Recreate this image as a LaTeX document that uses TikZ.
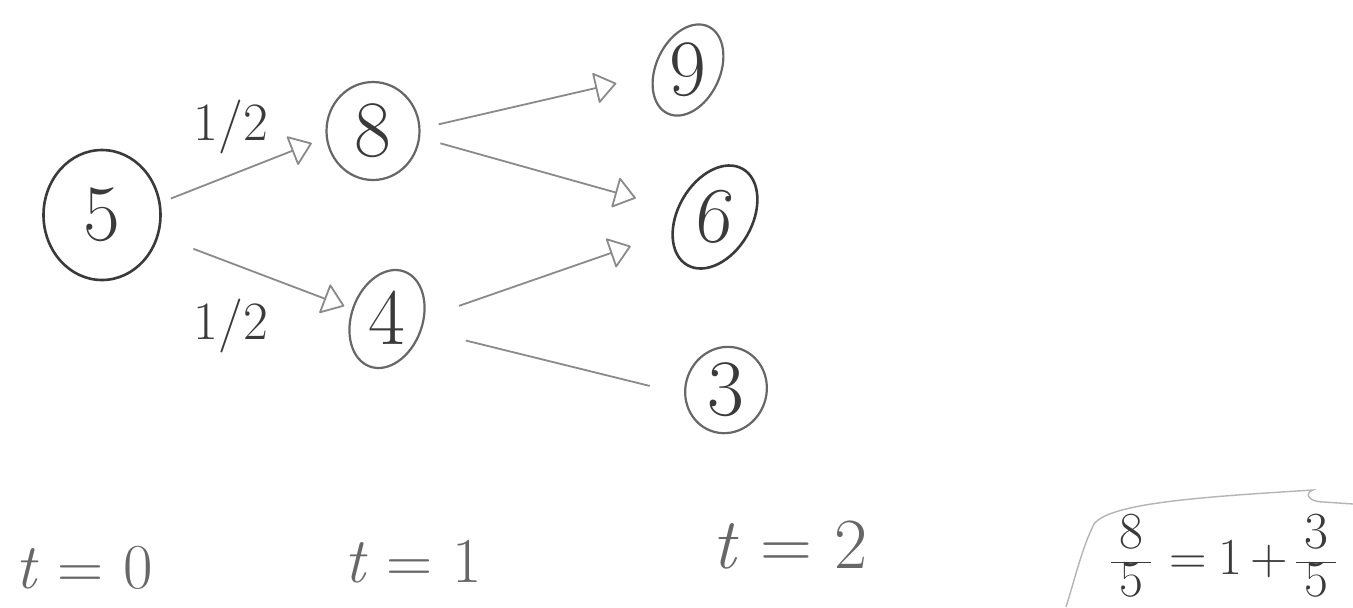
\documentclass[tikz,border=0pt]{standalone}
\usetikzlibrary{arrows.meta,shapes.geometric}
\definecolor{pencil}{HTML}{3A3A3A}
\definecolor{pencilmid}{HTML}{676767}
\definecolor{pencillight}{HTML}{8A8A8A}
\definecolor{pencilfaint}{HTML}{B4B4B4}
\newcommand\tiltdigit[2]{\raisebox{-0.322em}[0pt][0pt]{\makebox[0pt]{\rotatebox[origin=c]{#1}{#2}}}}
\newcommand\handfrac[2]{{\renewcommand\arraystretch{0.84}\begin{tabular}[c]{@{\hspace{4pt}}c@{\hspace{4pt}}}#1\\\hline #2\end{tabular}}}
\begin{document}
\begin{tikzpicture}[x=0.5pt,y=-0.5pt,
  ring/.style={ellipse, draw=pencilmid, line width=1.1pt, inner sep=0pt, text=pencil, font=\fontsize{40}{48}\selectfont},
  darkring/.style={ring, draw=pencil, line width=1.3pt},
  edgeline/.style={draw=pencillight, line width=0.9pt},
  tipped/.style={edgeline, -{Triangle[open, round, length=11pt, width=16pt]}},
  prob/.style={text=pencil, font=\fontsize{27}{27}\selectfont},
  timelbl/.style={text=pencilmid, font=\fontsize{32}{38}\selectfont},
]
\fill[white] (0,0) rectangle (1353,607);
\useasboundingbox (0,0) rectangle (1353,607);

% nodes
\node[darkring, minimum width=58.5pt, minimum height=65pt] (n5) at (102,215) {5};
\node[ring, minimum width=46.5pt, minimum height=49pt] (n8) at (373,131) {8};
\node[ring, minimum width=35.5pt, minimum height=50.5pt, rotate=-20] (n4) at (387,319) {\tiltdigit{20}{4}};
\node[ring, minimum width=32pt, minimum height=48pt, rotate=-25] (n9) at (688,70) {\tiltdigit{25}{9}};
\node[darkring, minimum width=37pt, minimum height=55.5pt, rotate=-30] (n6) at (715,217) {\tiltdigit{22}{6}};
\node[ring, minimum width=40.5pt, minimum height=43.5pt, rotate=-20] (n3) at (726,390) {\tiltdigit{20}{3}};

% connectors
\draw[tipped, shorten <=5.5pt, shorten >=7.5pt] (n5.12) -- (n8.188);
\draw[tipped, shorten <=18.5pt, shorten >=4pt] (n5.-20) -- (n4.184);
\draw[tipped, shorten <=9.3pt, shorten >=18.4pt] (n8.3) -- (n9.213);
\draw[tipped, shorten <=10.5pt, shorten >=21pt] (n8.-8) -- (n6.199);
\draw[tipped, shorten <=18pt, shorten >=21.5pt] (n4.22) -- (n6.229);
\draw[edgeline, shorten <=22.6pt, shorten >=17.7pt] (n4.3) -- (n3.206);

% probabilities
\node[prob] (p1) at (231,127) {1/2};
\node[prob] (p2) at (231,326) {1/2};

% time labels
\node[timelbl] (t0) at (84,568) {\textit{t} = 0};
\node[timelbl] (t1) at (413,562) {\textit{t} = 1};
\node[timelbl, font=\fontsize{36}{42}\selectfont] (t2) at (790,545) {\textit{t} = 2};

% equation in corner box
\node[prob, font=\fontsize{26}{26}\selectfont, anchor=west, inner sep=0pt] (eq) at (1111,562) {\handfrac{8}{5}\hspace{9pt}=\hspace{6pt}1\hspace{4pt}+\hspace{4pt}\handfrac{3}{5}};
\draw[draw=pencilfaint, line width=0.7pt] (1066,607) .. controls (1076,575) and (1082,548) .. (1094,524)
  .. controls (1110,503) and (1200,497) .. (1313,490)
  .. controls (1304,493) and (1308,502) .. (1324,502) -- (1353,504);
\end{tikzpicture}
\end{document}
